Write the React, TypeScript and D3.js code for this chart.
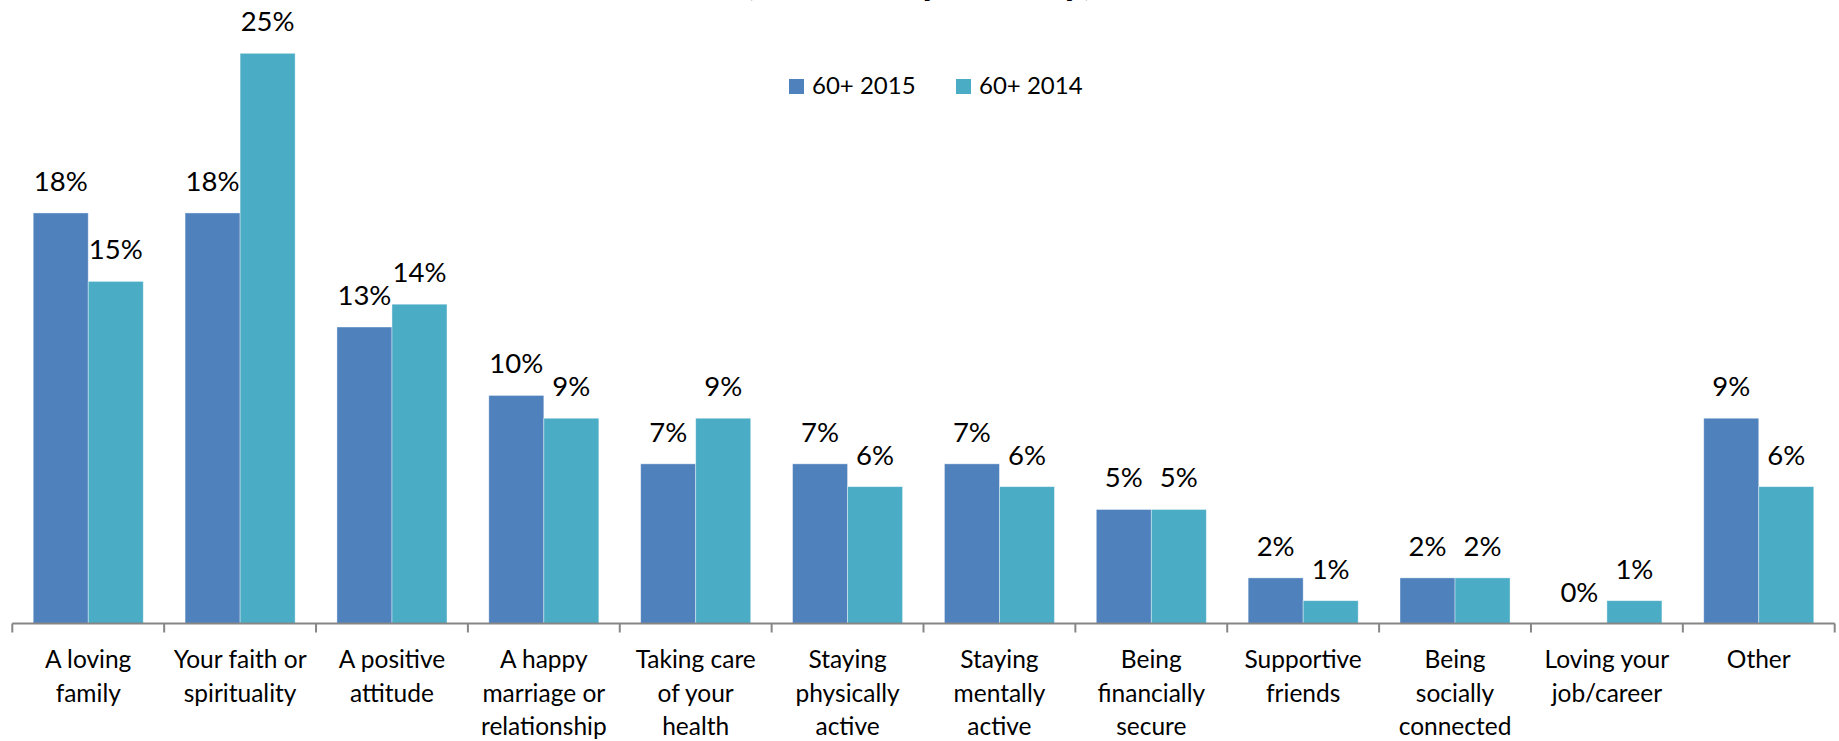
import React from "react";
import * as d3 from "d3";

const categories = [
  "A loving|family",
  "Your faith or|spirituality",
  "A positive|attitude",
  "A happy|marriage or|relationship",
  "Taking care|of your|health",
  "Staying|physically|active",
  "Staying|mentally|active",
  "Being|financially|secure",
  "Supportive|friends",
  "Being|socially|connected",
  "Loving your|job/career",
  "Other",
];
const seriesNames = ["60+ 2015", "60+ 2014"];
const values2015 = [18, 18, 13, 10, 7, 7, 7, 5, 2, 2, 0, 9];
const values2014 = [15, 25, 14, 9, 9, 6, 6, 5, 1, 2, 1, 6];
const colors = ["#4F81BD", "#4BACC6"];
const titleText = "(Ranked by Priority)";

const W = 1839;
const H = 741;
const FONT = "Lato, 'Open Sans', sans-serif";

export default function App() {
  const x0 = d3.scaleBand<number>().domain(d3.range(categories.length)).range([12.3, 1834.7]).paddingInner(0).paddingOuter(0);
  const x1 = d3.scaleBand<number>().domain([0, 1]).range([0, x0.bandwidth()]).paddingInner(0).paddingOuter(0.38);
  const y = d3.scaleLinear().domain([0, 25]).range([623.5, 53.3]);
  const series = [values2015, values2014];
  const baseY = y(0);

  return (
    <svg width={W} height={H} style={{ position: "absolute", left: 0, top: 0, background: "#fff" }} fontFamily={FONT}>
      <rect x={0} y={0} width={W} height={H} fill="#fff" />
      <text x={919} y={-6} textAnchor="middle" fontSize={40} fontWeight={700} fill="#000">{titleText}</text>
      {series.map((vals, s) =>
        vals.map((v, i) => {
          const bx = (x0(i) as number) + (x1(s) as number);
          const bw = x1.bandwidth();
          const top = y(v);
          return (
            <g key={`${s}-${i}`}>
              {v > 0 && (
                <rect x={bx} y={top} width={bw} height={baseY - top} fill={colors[s]} stroke="#ffffff" strokeOpacity={0.5} strokeWidth={0.8} />
              )}
              <text x={bx + bw / 2} y={top - 22} textAnchor="middle" fontSize={27.5} fill="#000">{`${v}%`}</text>
            </g>
          );
        })
      )}
      <line x1={x0.range()[0]} x2={x0.range()[1]} y1={baseY} y2={baseY} stroke="#868686" strokeWidth={2} />
      {d3.range(categories.length + 1).map((i) => {
        const tx = x0.range()[0] + i * x0.step();
        return <line key={i} x1={tx} x2={tx} y1={baseY} y2={baseY + 9} stroke="#868686" strokeWidth={2} />;
      })}
      {categories.map((c, i) => {
        const cx = (x0(i) as number) + x0.bandwidth() / 2;
        return (
          <text key={i} x={cx} textAnchor="middle" fontSize={24.5} fill="#000">
            {c.split("|").map((ln, k) => (
              <tspan key={k} x={cx} y={668 + k * 33.5}>{ln}</tspan>
            ))}
          </text>
        );
      })}
      {seriesNames.map((n, s) => {
        const lx = [789, 956][s];
        return (
          <g key={n}>
            <rect x={lx} y={79} width={15} height={15} fill={colors[s]} />
            <text x={lx + 23} y={94} fontSize={24} fill="#000">{n}</text>
          </g>
        );
      })}
    </svg>
  );
}
